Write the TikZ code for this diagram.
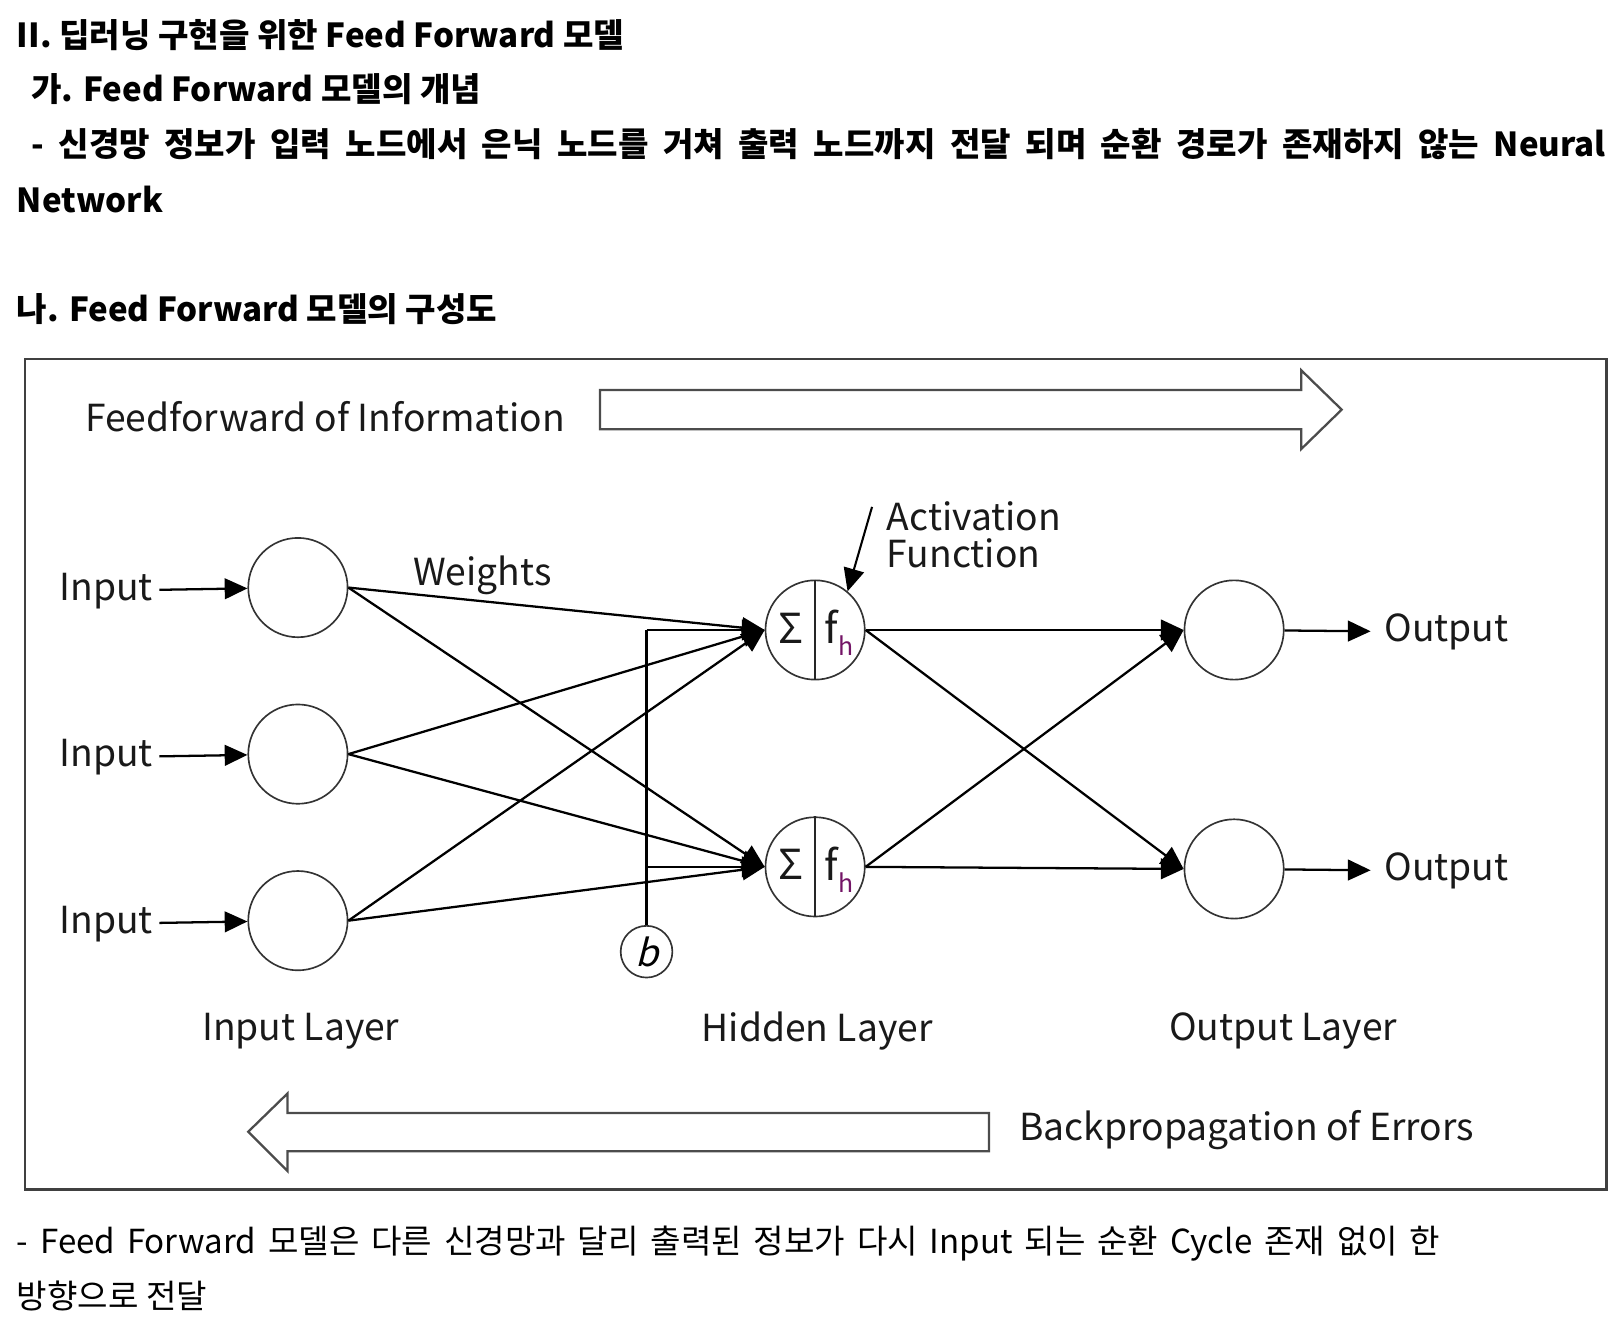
\documentclass[tikz,border=0pt]{standalone}
\usepackage{fontspec}
\setmainfont{Noto Sans CJK KR}
\newfontfamily\krslant{Noto Sans CJK KR}[FakeSlant=0.25]
\usetikzlibrary{arrows.meta}
\definecolor{hpurple}{rgb}{0.45,0.08,0.40}
\definecolor{txt}{gray}{0.1}
\begin{document}
\begin{tikzpicture}[x=0.5pt,y=-0.5pt,
  neuron/.style={circle,draw=black!80,line width=0.8pt,minimum size=48pt,inner sep=0pt},
  biasnode/.style={circle,draw=black!80,line width=0.8pt,minimum size=25pt,inner sep=0pt},
  conn/.style={line width=1.1pt,-{Triangle[length=11pt,width=10pt]}},
  wire/.style={line width=1.1pt},
  hollow/.style={draw=black!70,line width=1.1pt,line join=miter,fill=white},
  head/.style={anchor=west,inner sep=0pt,font=\bfseries\fontsize{16}{16}\selectfont},
  body/.style={anchor=west,inner sep=0pt,font=\fontsize{16}{16}\selectfont},
  lbl/.style={anchor=west,inner sep=0pt,text=txt,font=\fontsize{18}{18}\selectfont},
]
\useasboundingbox (0,0) rectangle (1568,1286);

% heading text
\node[head] (t1) at (16,34) {II. 딥러닝 구현을 위한 Feed Forward 모델};
\node[head] (t2) at (30,86) {가. Feed Forward 모델의 개념};
\node[head] (t3) at (30,139) {\makebox[761pt][s]{- 신경망 정보가 입력 노드에서 은닉 노드를 거쳐 출력 노드까지 전달 되며 순환 경로가 존재하지 않는 Neural}};
\node[head] (t4) at (16,193) {Network};
\node[head] (t5) at (16,299) {나. Feed Forward 모델의 구성도};

% frame
\draw[line width=1.2pt,black!75] (24,347) rectangle (1553,1150);

% big hollow arrows
\draw[hollow] (580,377) -- (1258,377) -- (1258,358) -- (1297,396) -- (1258,434) -- (1258,415) -- (580,415) -- cycle;
\draw[hollow] (956,1076) -- (278,1076) -- (278,1057) -- (240,1094) -- (278,1132) -- (278,1113) -- (956,1113) -- cycle;
\node[lbl] (ff) at (82,403) {Feedforward of Information};
\node[lbl] (bp) at (985,1092) {Backpropagation of Errors};

% input layer
\node[neuron] (i1) at (288,568) {};
\node[neuron] (i2) at (288,729) {};
\node[neuron] (i3) at (288,890) {};
\node[lbl] (in1) at (57,571) {Input};
\node[lbl] (in2) at (57,732) {Input};
\node[lbl] (in3) at (57,893) {Input};
\draw[conn,shorten <=3pt] (in1) -- (i1);
\draw[conn,shorten <=3pt] (in2) -- (i2);
\draw[conn,shorten <=3pt] (in3) -- (i3);

% hidden layer
\node[neuron] (h1) at (788,609) {};
\node[neuron] (h2) at (788,838) {};
\draw[line width=0.8pt,black!85] (h1.north) -- (h1.south);
\draw[line width=0.8pt,black!85] (h2.north) -- (h2.south);
\foreach \h in {h1,h2}{
  \node[inner sep=0pt,text=txt,font=\fontsize{20}{20}\selectfont] at ([xshift=-11.5pt,yshift=1pt]\h.center) {Σ};
  \node[anchor=base west,inner sep=0pt,text=txt,font=\fontsize{20}{20}\selectfont] at ([xshift=4.5pt,yshift=-6.5pt]\h.center) {f\raisebox{-6pt}{\fontsize{12}{12}\selectfont\color{hpurple}h}};
}

% bias
\node[biasnode] (b) at (625,920) {\krslant\fontsize{18}{18}\selectfont b};
\coordinate (bj1) at (b.north |- h1.west);
\coordinate (bj2) at (b.north |- h2.west);
\draw[wire] (b.north) -- (bj1);
\draw[conn] (bj1) -- (h1.west);
\draw[conn] (bj2) -- (h2.west);

% output layer
\node[neuron] (o1) at (1193,609) {};
\node[neuron] (o2) at (1193,840) {};
\node[lbl] (out1) at (1338,611) {Output};
\node[lbl] (out2) at (1338,842) {Output};
\draw[conn,shorten >=6.5pt] (o1) -- (out1);
\draw[conn,shorten >=6.5pt] (o2) -- (out2);

% weights input -> hidden
\foreach \i in {i1,i2,i3}{
  \draw[conn] (\i.east) -- (h1.west);
  \draw[conn] (\i.east) -- (h2.west);
}
% hidden -> output
\foreach \h in {h1,h2}{
  \draw[conn] (\h.east) -- (o1.west);
  \draw[conn] (\h.east) -- (o2.west);
}

\node[lbl] (w) at (399,556) {Weights};
\node[lbl,anchor=north west,align=left,font=\fontsize{18}{17.5}\selectfont] (af) at (857,485) {Activation\\Function};
\coordinate (actail) at (843,490);
\draw[conn,line width=1pt] (actail) -- (h1.50);

% layer labels
\node[lbl] (il) at (195,997) {Input Layer};
\node[lbl] (hl) at (678,997) {Hidden Layer};
\node[lbl] (ol) at (1130,997) {Output Layer};

% bottom text
\node[body] (bt1) at (16,1202) {\makebox[688pt][s]{- Feed Forward 모델은 다른 신경망과 달리 출력된 정보가 다시 Input 되는 순환 Cycle 존재 없이 한}};
\node[body] (bt2) at (16,1253) {방향으로 전달};
\end{tikzpicture}
\end{document}
